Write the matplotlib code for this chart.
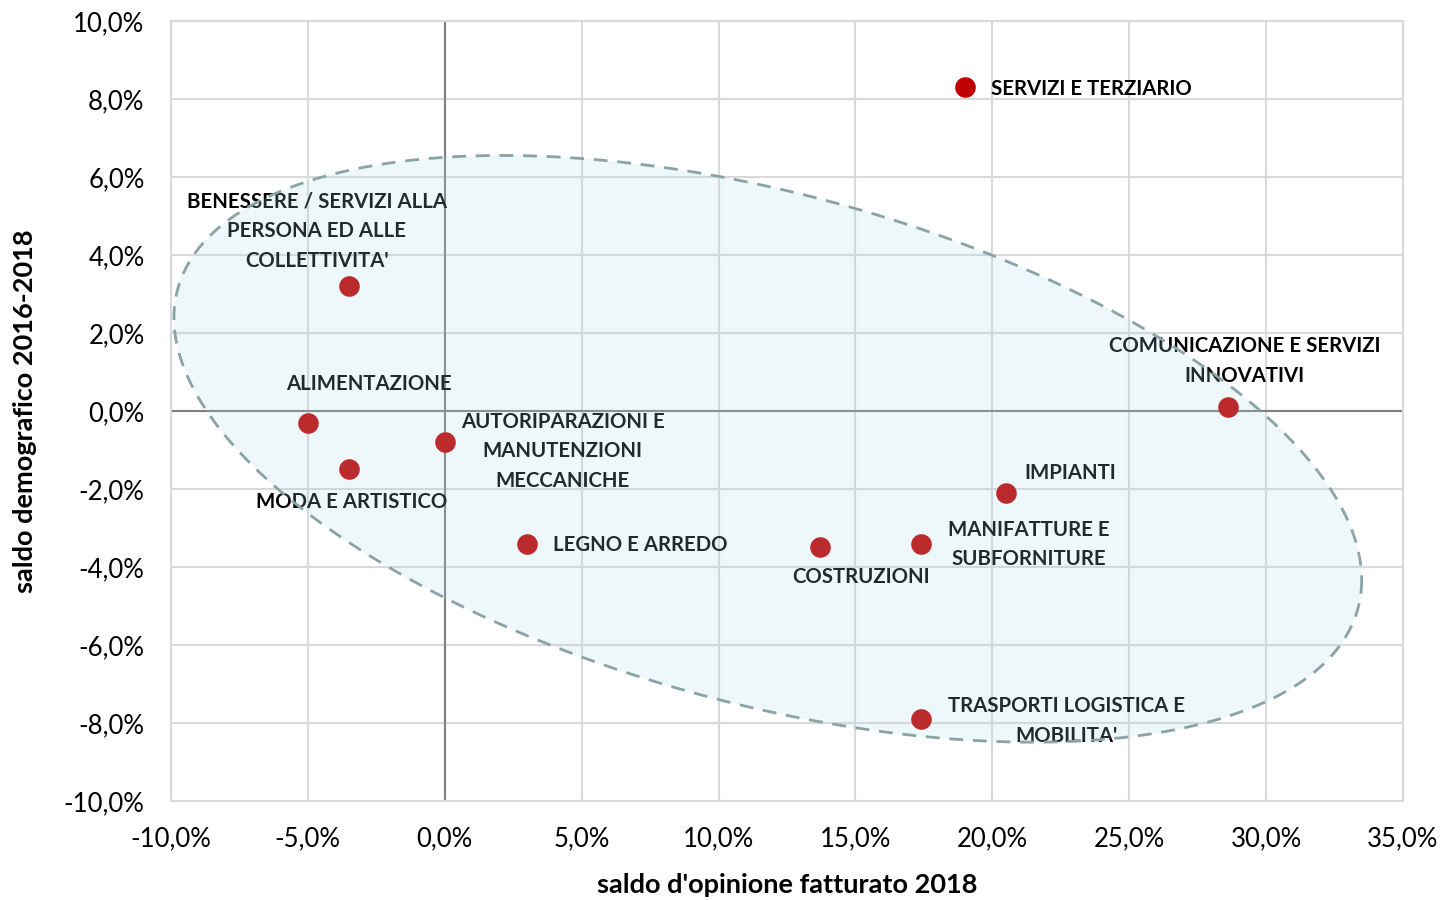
import numpy as np
import matplotlib.pyplot as plt
from matplotlib.patches import Polygon
from matplotlib.ticker import FuncFormatter, MultipleLocator

plt.rcParams['font.family'] = ['Lato', 'DejaVu Sans']

# dati (percentuali)
settori = ['SERVIZI E TERZIARIO',
           "BENESSERE / SERVIZI ALLA\nPERSONA ED ALLE\nCOLLETTIVITA'",
           'ALIMENTAZIONE',
           'MODA E ARTISTICO',
           'AUTORIPARAZIONI E\nMANUTENZIONI\nMECCANICHE',
           'LEGNO E ARREDO',
           'COSTRUZIONI',
           'MANIFATTURE E\nSUBFORNITURE',
           'IMPIANTI',
           'COMUNICAZIONE E SERVIZI\nINNOVATIVI',
           "TRASPORTI LOGISTICA E\nMOBILITA'"]
fatturato = [19.0, -3.5, -5.0, -3.5, 0.0, 3.0, 13.7, 17.4, 20.5, 28.6, 17.4]
demografico = [8.3, 3.2, -0.3, -1.5, -0.8, -3.4, -3.5, -3.4, -2.1, 0.1, -7.9]

# offset etichette (pixel) e allineamento
offsets = [(26, -2), (-32, 55), (61, 39), (3, -33), (118, -9), (26, -1),
           (41, -30), (108, -1), (64, 20), (17, 46), (145, -2)]
align = ['left', 'center', 'center', 'center', 'center', 'left',
         'center', 'center', 'center', 'center', 'center']

fig = plt.figure(figsize=(14.5, 9.01), dpi=100)
ax = fig.add_axes([0.1179, 0.111, 0.8497, 0.8657])

ax.set_xlim(-10, 35)
ax.set_ylim(-10, 10)
ax.xaxis.set_major_locator(MultipleLocator(5))
ax.yaxis.set_major_locator(MultipleLocator(2))
fmt = FuncFormatter(lambda v, p: f'{v:.1f}%'.replace('.', ','))
ax.xaxis.set_major_formatter(fmt)
ax.yaxis.set_major_formatter(fmt)
ax.grid(True, color='#D9D9D9', linewidth=1.5, zorder=0)
ax.set_axisbelow(True)
for s in ax.spines.values():
    s.set_color('#D9D9D9')
    s.set_linewidth(1.5)
ax.tick_params(length=0, labelsize=18.5, colors='black')
ax.tick_params(axis='x', pad=18)
ax.tick_params(axis='y', pad=19)
ax.axhline(0, color='#7F7F7F', linewidth=1.5, zorder=1)
ax.axvline(0, color='#7F7F7F', linewidth=1.5, zorder=1)

ax.scatter(fatturato, demografico, s=220, color='#C00000', zorder=3, linewidths=0)

for nome, x, y, off, ha in zip(settori, fatturato, demografico, offsets, align):
    ax.annotate(nome, (x, y), xytext=(off[0] * 0.72, off[1] * 0.72),
                textcoords='offset points', ha=ha, va='center',
                fontsize=14.7, fontweight='bold', color='black',
                linespacing=1.6, zorder=4)

# ellisse tratteggiata
t = np.linspace(0, 2 * np.pi, 400)
ex = 11.8 + 21.69 * np.cos(t)
ey = -0.97 - 3.36 * np.cos(t) - 6.73 * np.sin(t)
ax.add_patch(Polygon(np.column_stack([ex, ey]), closed=True,
                     facecolor='#AAD7E1', alpha=0.2, edgecolor='none', zorder=5))
ax.add_patch(Polygon(np.column_stack([ex, ey]), closed=True, fill=False,
                     edgecolor='#8AA3A5', linewidth=2, linestyle=(0, (5, 3.5)), zorder=6))

ax.set_xlabel("saldo d'opinione fatturato 2018", fontsize=19.5, fontweight='bold', labelpad=16)
ax.set_ylabel('saldo demografico 2016-2018', fontsize=19.5, fontweight='bold', labelpad=19)

fig.savefig('out.png', dpi=100)
